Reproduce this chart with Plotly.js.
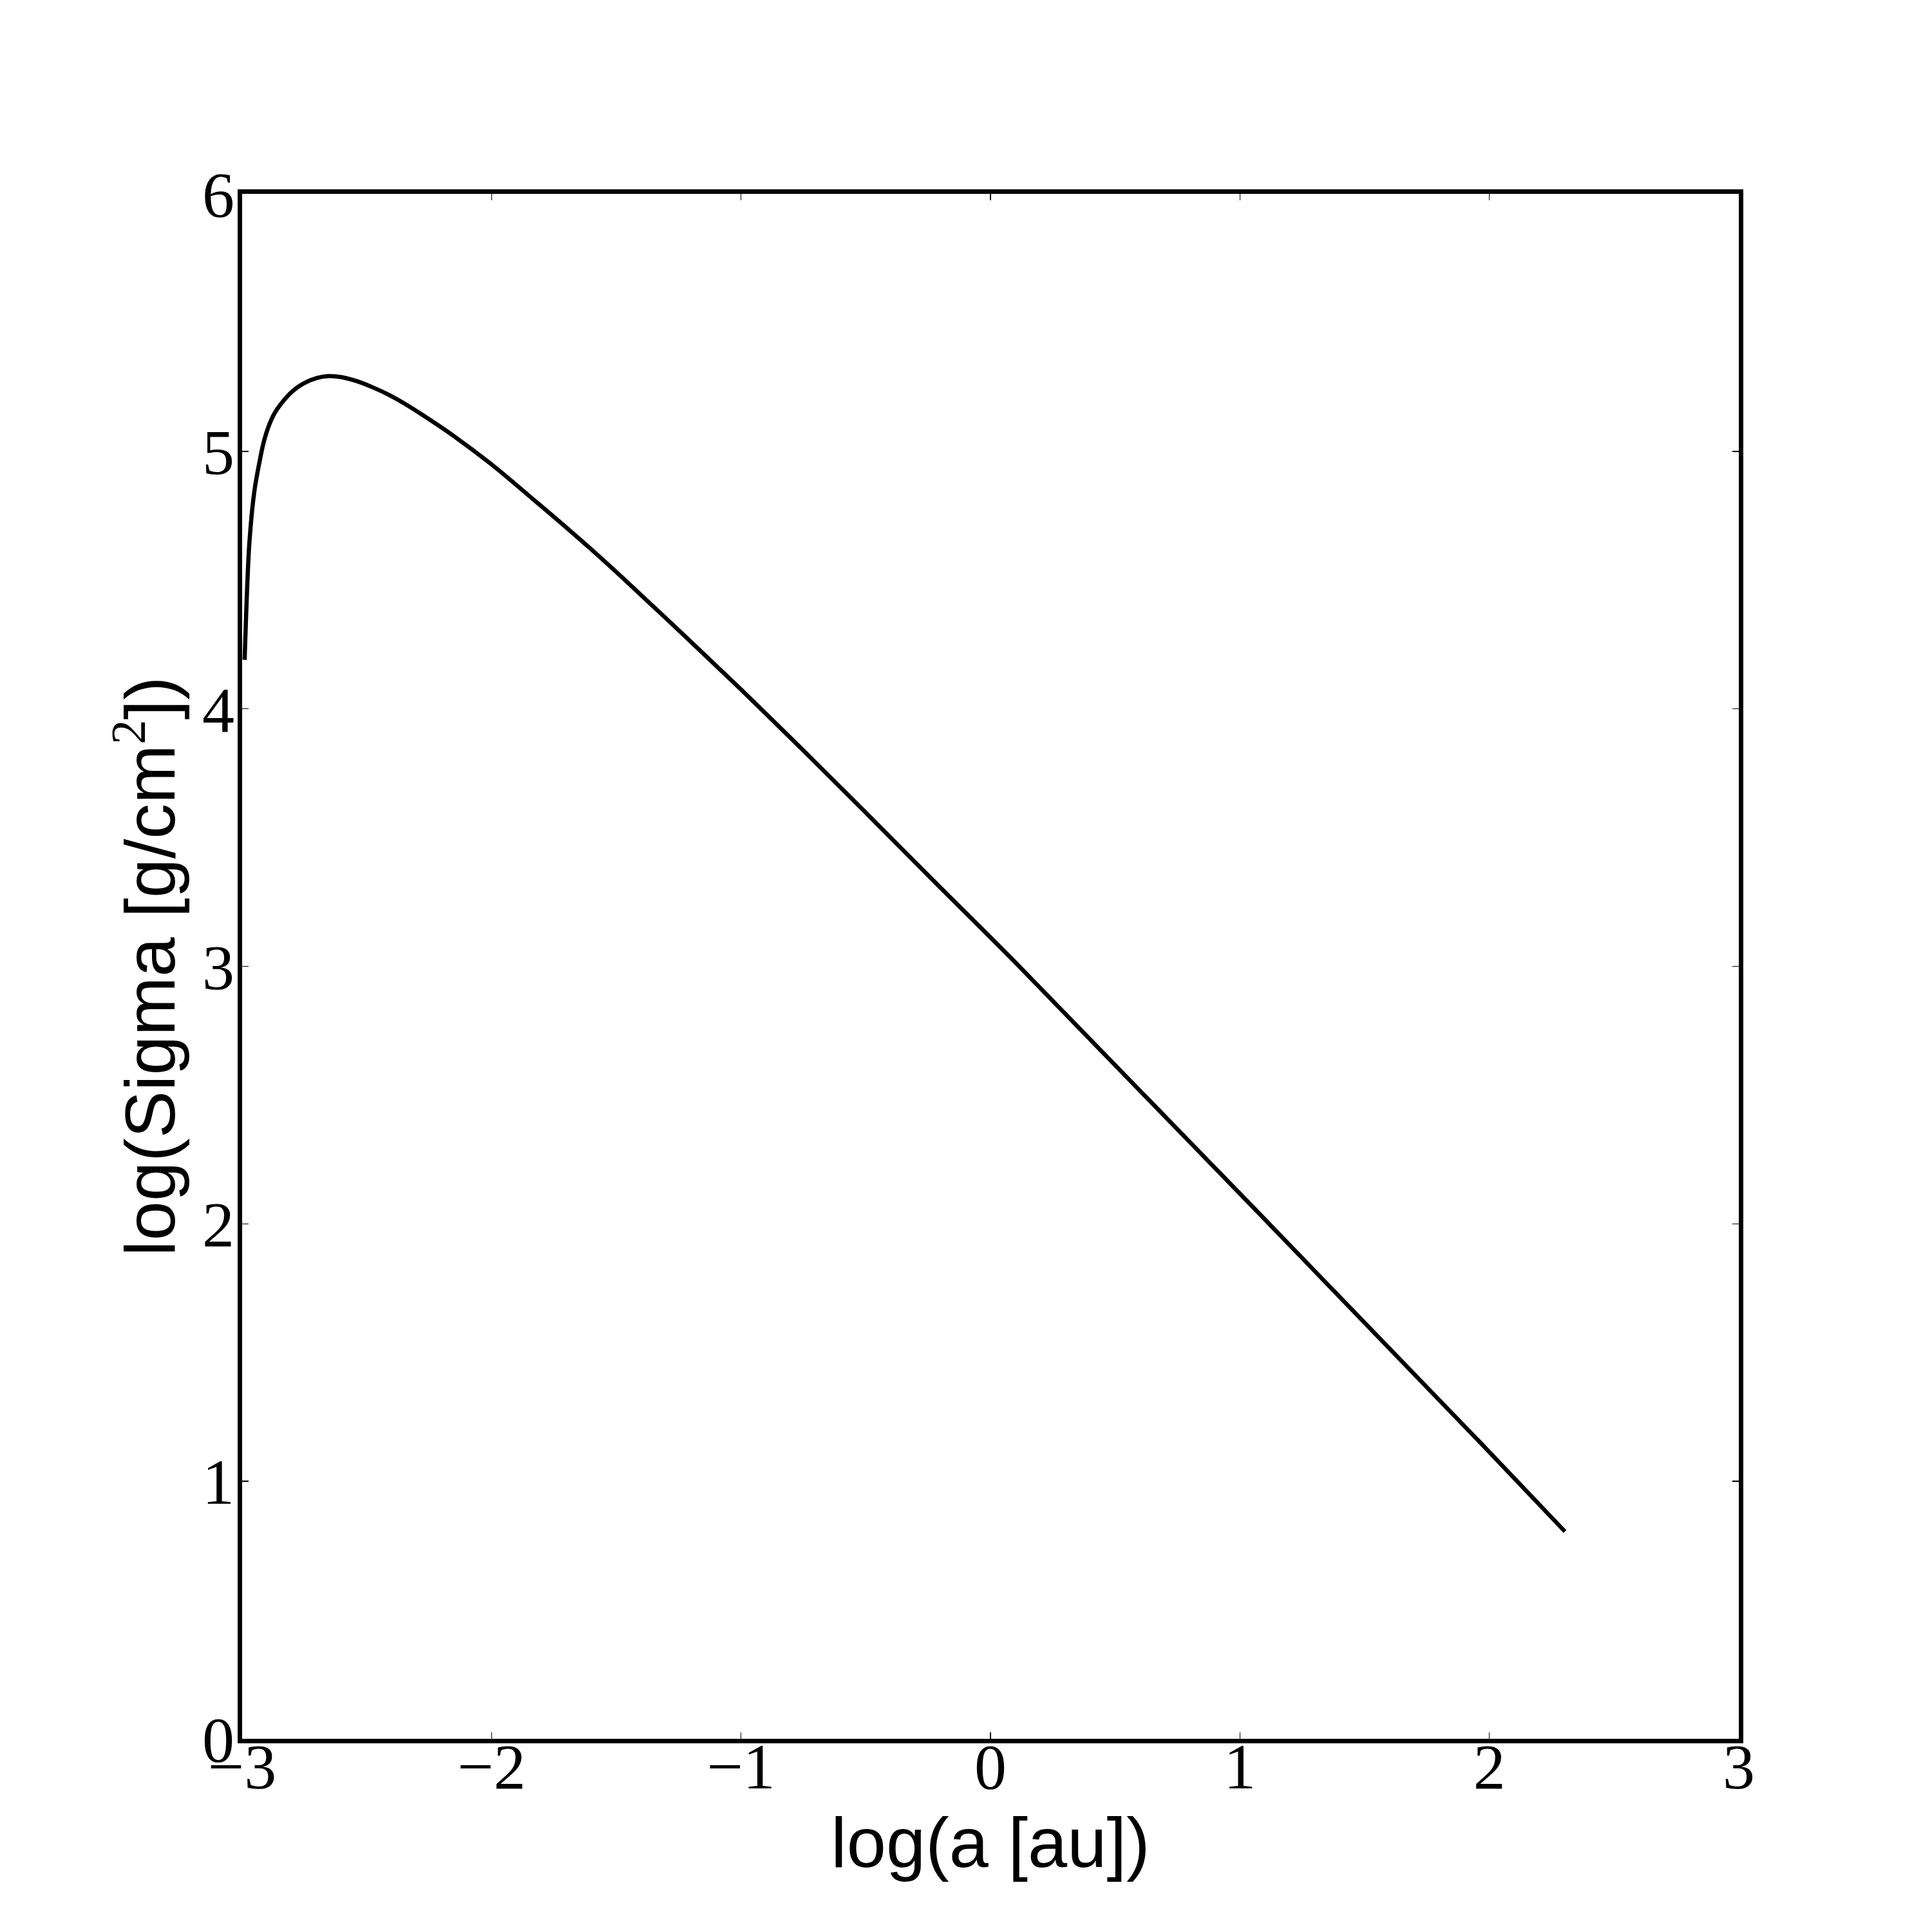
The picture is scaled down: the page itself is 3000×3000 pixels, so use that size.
<!DOCTYPE html>
<html>
<head>
<meta charset="utf-8">
<script src="https://cdn.plot.ly/plotly-3.0.1.min.js"></script>
<style>
  html, body { margin: 0; padding: 0; background: #ffffff; }
  #chart { width: 3000px; height: 3000px; }
</style>
</head>
<body>
<div id="chart"></div>
<script>
// log10 of orbital distance a [au]
const logA = [-2.990, -2.972, -2.951, -2.930, -2.915, -2.895, -2.870, -2.843, -2.800, -2.757,
              -2.700, -2.654, -2.600, -2.542, -2.480, -2.413, -2.350, -2.284, -2.155, -1.983,
              -1.819, -1.724, -1.600, -1.475, -1.250, -1.000, -0.750, -0.500, -0.227, 0.109,
              1.968, 2.303];
// log10 of surface density Sigma [g/cm^2]
const logSigma = [4.19, 4.63, 4.845, 4.961, 5.030, 5.094, 5.148, 5.186, 5.232, 5.262,
                  5.285, 5.292, 5.288, 5.273, 5.250, 5.220, 5.186, 5.146, 5.062, 4.936,
                  4.802, 4.724, 4.619, 4.509, 4.305, 4.075, 3.838, 3.597, 3.331, 3.006,
                  1.146, 0.805];

const xTicks = [-3, -2, -1, 0, 1, 2, 3];
const yTicks = [0, 1, 2, 3, 4, 5, 6];

const trace = {
  x: logA,
  y: logSigma,
  type: 'scatter',
  mode: 'lines',
  line: { color: '#000000', width: 6.5, shape: 'spline', smoothing: 0.8 },
  hoverinfo: 'skip'
};

const tickFont = { family: 'Liberation Serif, DejaVu Serif, serif', size: 100, color: '#000000' };
const titleFont = { family: 'Liberation Sans, Arial, sans-serif', size: 110, color: '#000000' };

const axisCommon = {
  showline: true,
  linewidth: 7,
  linecolor: '#000000',
  mirror: 'allticks',
  ticks: 'inside',
  ticklen: 10,
  tickwidth: 1.5,
  tickcolor: '#000000',
  showgrid: false,
  zeroline: false,
  tickfont: tickFont,
  fixedrange: true
};

const layout = {
  width: 3000,
  height: 3000,
  paper_bgcolor: '#ffffff',
  plot_bgcolor: '#ffffff',
  showlegend: false,
  margin: { l: 376, r: 300, t: 301, b: 300, autoexpand: false },
  xaxis: Object.assign({}, axisCommon, {
    range: [-3, 3],
    tickmode: 'array',
    tickvals: xTicks,
    ticktext: xTicks.map(v => (v < 0 ? '\u2212' + Math.abs(v) : String(v))),
    ticklabelstandoff: -50,
    title: { text: 'log(a [au])', font: titleFont, standoff: 0 },
    automargin: false
  }),
  yaxis: Object.assign({}, axisCommon, {
    range: [0, 6],
    tickmode: 'array',
    tickvals: yTicks,
    ticktext: yTicks.map(v => String(v)),
    ticklabelstandoff: -15,
    title: {
      text: 'log(Sigma [g/cm<sup><span style="font-family:Liberation Serif">2</span></sup>])',
      font: titleFont,
      standoff: 8
    },
    automargin: false
  })
};

Plotly.newPlot('chart', [trace], layout, { displayModeBar: false, staticPlot: true });
</script>
</body>
</html>
